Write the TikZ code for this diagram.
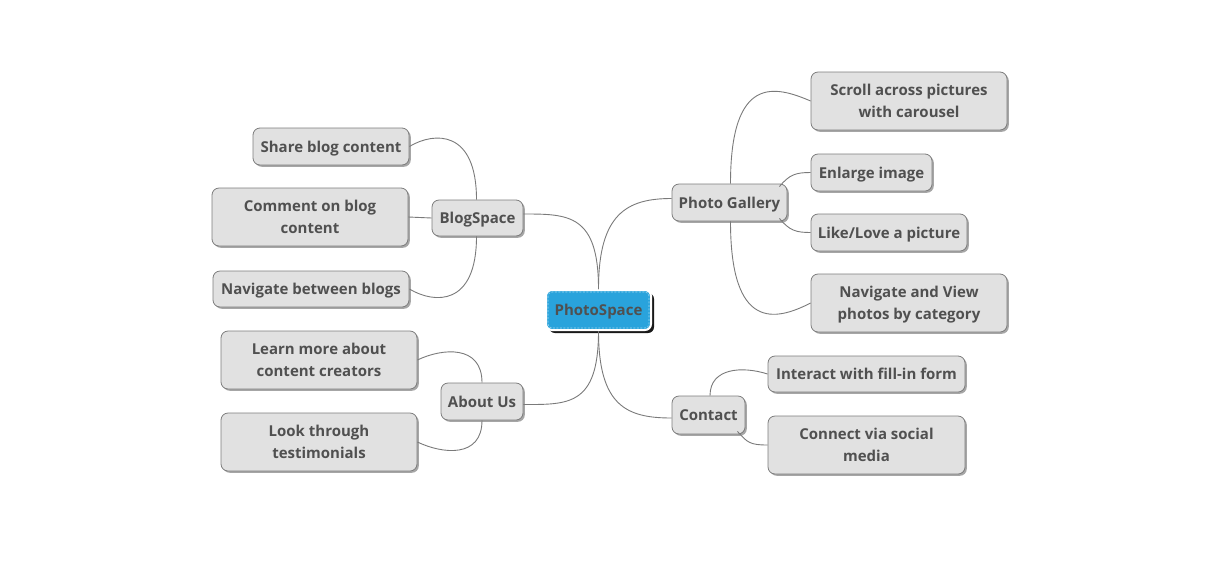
\documentclass[tikz,border=0pt]{standalone}
\usepackage{fontspec}
\setmainfont{Open Sans}
\usetikzlibrary{shadows}
\definecolor{nodefill}{HTML}{E1E1E1}
\definecolor{nodeline}{HTML}{7C7C7C}
\definecolor{txt}{HTML}{505050}
\definecolor{hubblue}{HTML}{29A3DC}
\definecolor{wire}{HTML}{7A7A7A}
\begin{document}
\begin{tikzpicture}[x=1pt,y=-1pt,
  box/.style={draw=nodeline, fill=nodefill, rounded corners=7pt, line width=0.8pt,
    font=\bfseries\fontsize{15}{22}\selectfont, text=txt, align=center, inner sep=0pt, text depth=0pt,
    drop shadow={shadow xshift=1.8pt, shadow yshift=-1.8pt, fill=black, opacity=0.35}},
  hubbox/.style={draw=white, fill=hubblue, rounded corners=6pt, line width=2pt,
    font=\bfseries\fontsize{15}{22}\selectfont, text=txt, align=center, inner sep=0pt, text depth=0pt,
    drop shadow={shadow xshift=3pt, shadow yshift=-3pt, fill=black, opacity=0.9}},
  link/.style={draw=wire, line width=0.9pt}
]
\useasboundingbox (0,0) rectangle (1207,574);

% central node
\node[hubbox, minimum width=105pt, minimum height=40pt] (hub) at (598.5,310) {PhotoSpace};
\draw[white!55!hubblue, dashed, dash pattern=on 2pt off 1.5pt, rounded corners=4pt, line width=0.6pt]
  ([shift={(3pt,-3pt)}]hub.north west) rectangle ([shift={(-3pt,3pt)}]hub.south east);

% branch nodes
\node[box, minimum width=91pt, minimum height=36pt] (blog) at (477.5,218) {BlogSpace};
\node[box, minimum width=82pt, minimum height=37pt] (about) at (482,401.5) {About Us};
\node[box, minimum width=115pt, minimum height=37pt] (gallery) at (729.5,202.5) {Photo Gallery};
\node[box, minimum width=73pt, minimum height=38pt] (contact) at (708.5,415) {Contact};

% leaves
\node[box, minimum width=156pt, minimum height=37pt] (share) at (331,146.5) {Share blog content};
\node[box, minimum width=196pt, minimum height=58pt] (comment) at (310,217) {Comment on blog\\content};
\node[box, minimum width=196pt, minimum height=36pt] (navb) at (311,289) {Navigate between blogs};
\node[box, minimum width=196pt, minimum height=58pt] (learn) at (319,360) {Learn more about\\content creators};
\node[box, minimum width=196pt, minimum height=58pt] (look) at (319,442) {Look through\\testimonials};
\node[box, minimum width=196pt, minimum height=58pt] (scroll) at (909,101) {Scroll across pictures\\with carousel};
\node[box, minimum width=121pt, minimum height=37pt] (enlarge) at (871.5,172.5) {Enlarge image};
\node[box, minimum width=156pt, minimum height=37pt] (like) at (889,232.5) {Like/Love a picture};
\node[box, minimum width=196pt, minimum height=58pt] (navv) at (909,303) {Navigate and View\\photos by category};
\node[box, minimum width=197pt, minimum height=36pt] (interact) at (866.5,374) {Interact with fill-in form};
\node[box, minimum width=197pt, minimum height=58pt] (connect) at (866.5,445) {Connect via social\\media};

% connectors from hub
\path[link] (hub.north) .. controls +(0,-75) and +(45,0) .. ([yshift=4pt]blog.east);
\path[link] (hub.north) .. controls +(0,-75) and +(-45,0) .. ([yshift=4pt]gallery.west);
\path[link] (hub.south) .. controls +(0,75) and +(45,0) .. ([yshift=-3pt]about.east);
\path[link] (hub.south) .. controls +(0,75) and +(-45,0) .. ([yshift=-3pt]contact.west);

% BlogSpace children
\path[link] ([xshift=-1pt]blog.north) .. controls +(0,-70) and +(25,-15) .. (share.east);
\path[link] (blog.west) -- (comment.east);
\path[link] ([xshift=-1pt]blog.south) .. controls +(0,70) and +(25,15) .. (navb.east);

% About Us children
\path[link] (about.north) .. controls +(0,-38) and +(25,-12) .. (learn.east);
\path[link] (about.south) .. controls +(0,38) and +(25,12) .. (look.east);

% Photo Gallery children
\path[link] ([xshift=1pt]gallery.north) .. controls +(0,-110) and +(-35,-15) .. (scroll.west);
\path[link] ([xshift=-8pt,yshift=-3pt]gallery.north east) .. controls +(10,-12) and +(-15,0) .. (enlarge.west);
\path[link] ([xshift=-8pt,yshift=3pt]gallery.south east) .. controls +(10,12) and +(-15,0) .. (like.west);
\path[link] ([xshift=1pt]gallery.south) .. controls +(0,110) and +(-35,18) .. (navv.west);

% Contact children
\path[link] ([xshift=1.5pt]contact.north) .. controls +(0,-28) and +(-25,-8) .. (interact.west);
\path[link] ([xshift=-8pt,yshift=3pt]contact.south east) .. controls +(10,11) and +(-18,0) .. (connect.west);
\end{tikzpicture}
\end{document}
